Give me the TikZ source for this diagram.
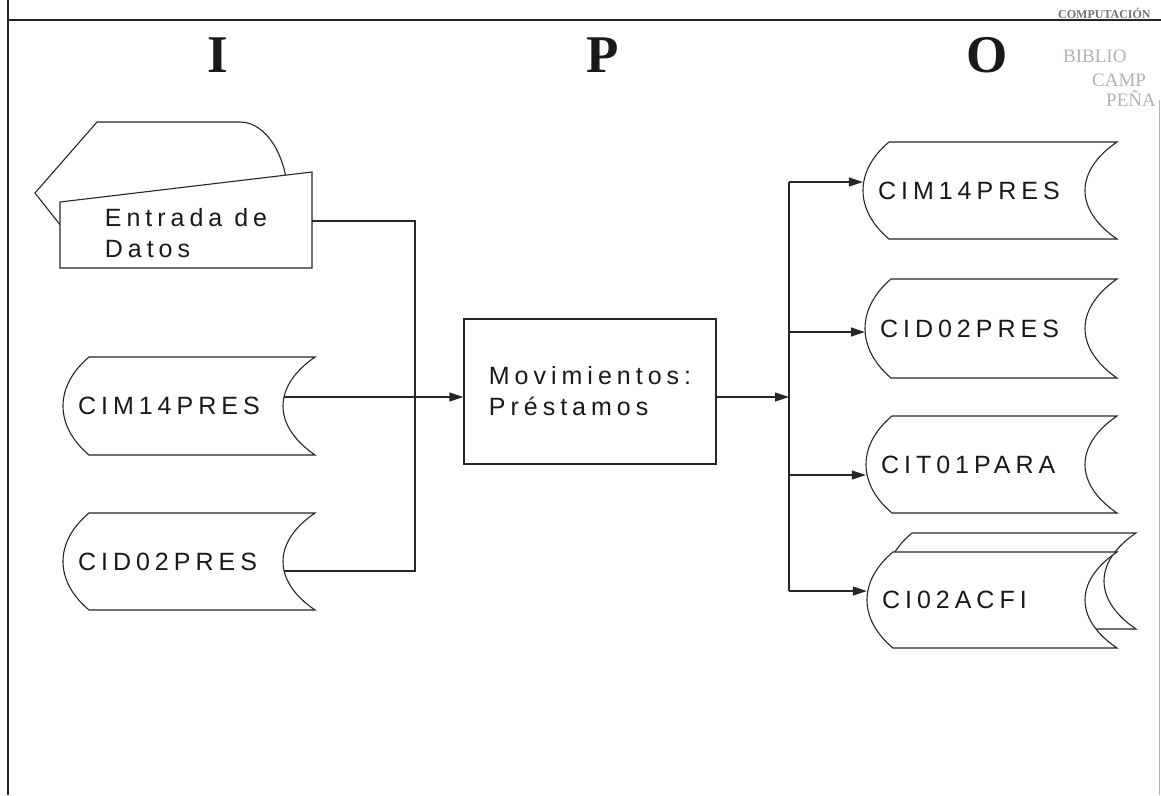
\documentclass[tikz,border=0pt]{standalone}
\usepackage{fontspec}
\setmainfont{Liberation Sans}
\newfontfamily\lblfont[LetterSpace=20]{Liberation Sans}
\newfontfamily\ipofont{Liberation Serif}
\usetikzlibrary{arrows.meta}
\tikzset{
  ln/.style={draw=black!85, line width=1.1pt},
  arr/.style={ln, -{Triangle[length=14pt,width=9pt]}},
  lbl/.style={font=\lblfont\fontsize{25}{31}\selectfont, text=black!90},
  ipo/.style={font=\ipofont\bfseries\fontsize{53}{60}\selectfont, anchor=base, text=black!90},
  stamp/.style={font=\ipofont\fontsize{19}{19}\selectfont, text=black!30, anchor=base west, inner sep=0},
}
\newcommand{\storage}[6]{%
  \pgfmathsetmacro{\smid}{(#3+#5)/2}%
  \pgfmathsetmacro{\sha}{#3+0.6*(#5-#3)/2}%
  \pgfmathsetmacro{\shb}{#5-0.6*(#5-#3)/2}%
  \pgfmathsetmacro{\sla}{#2+26}%
  \pgfmathsetmacro{\slc}{#2+26-34.667}%
  \pgfmathsetmacro{\src}{#4-42.667}%
  \pgfmathsetmacro{\swd}{#4-#2}%
  \pgfmathsetmacro{\stw}{#4-#2-30}%
  \pgfmathsetmacro{\sht}{#5-#3}%
  \pgfmathsetmacro{\scx}{(#2+#4)/2}%
  \draw[ln, fill=white] (\sla,#3) -- (#4,#3) .. controls (\src,\sha) and (\src,\shb) .. (#4,#5) -- (\sla,#5) .. controls (\slc,\shb) and (\slc,\sha) .. (\sla,#3) -- cycle;
  \node[lbl, minimum width=\swd pt, minimum height=\sht pt, inner xsep=15pt, inner ysep=0pt, text width=\stw pt, align=left] (#1) at (\scx,\smid) {#6};
}
\begin{document}
\begin{tikzpicture}[x=1pt, y=-1pt]
\useasboundingbox (0,0) rectangle (1161,795);
% frame
\draw[ln, line width=2.4pt] (8,0) -- (8,20);
\draw[ln] (8,0) -- (8,795);
\draw[ln] (8,20) -- (1161,20);
\draw[black!30, line width=0.8pt] (1159,100) -- (1159,795);
% stamp
\node[stamp, font=\ipofont\bfseries\fontsize{12}{12}\selectfont, text=black!55] (st0) at (1058,18) {COMPUTACIÓN};
\node[stamp] (st1) at (1063,62) {BIBLIO};
\node[stamp] (st2) at (1092,86) {CAMP};
\node[stamp] (st3) at (1106,106) {PEÑA};
% IPO headings
\node[ipo] (hI) at (218,72) {I};
\node[ipo] (hP) at (603,72) {P};
\node[ipo] (hO) at (987,72) {O};
% Entrada de Datos (display + manual input)
\draw[ln, fill=white] (35,193) -- (97,122) -- (240,122) .. controls (266.5,122) and (288,157) .. (288,200) -- (288,245) -- (76,245) -- cycle;
\draw[ln, fill=white] (60,202) -- (312,172) -- (312,268) -- (60,268) -- cycle;
\node[lbl, align=left, minimum width=252pt, inner sep=0pt] (ent) at (186,233) {Entrada de\\Datos};
% input files
\storage{in1}{63}{357}{315}{455}{CIM14PRES}
\storage{in2}{63}{513}{315}{610}{CID02PRES}
% process
\node[ln, lbl, align=left, minimum width=252pt, minimum height=145pt, inner sep=0pt] (proc) at (590,391.5) {Movimientos:\\Préstamos};
% output files
\storage{out1}{863}{142}{1117}{239}{CIM14PRES}
\storage{out2}{865}{279}{1117}{378}{CID02PRES}
\storage{out3}{866}{416}{1117}{513}{CIT01PARA}
\storage{out4b}{886}{533}{1136}{629}{}
\storage{out4}{867}{552}{1117}{648}{CI02ACFI}
% input connectors
\coordinate (jx) at (415,397);
\draw[ln] ([yshift=12pt]ent.east) -| (jx) |- ([xshift=-31pt,yshift=-9.5pt]in2.east);
\draw[arr] ([xshift=-31pt,yshift=9pt]in1.east) -- ([yshift=-5.5pt]proc.west);
% output connectors
\coordinate (busT) at (789,182);
\coordinate (busB) at (789,591);
\draw[ln] (busT) -- (busB);
\draw[arr] ([yshift=-5.5pt]proc.east) -- ([yshift=-5.5pt]proc.east -| busT);
\draw[arr] (busT) -- ([yshift=8.5pt]out1.west);
\draw[arr] ([yshift=-3.5pt]out2.west -| busT) -- ([yshift=-3.5pt]out2.west);
\draw[arr] ([yshift=-10.5pt]out3.west -| busT) -- ([yshift=-10.5pt]out3.west);
\draw[arr] (busB) -- ([yshift=9pt]out4.west);
\end{tikzpicture}
\end{document}
